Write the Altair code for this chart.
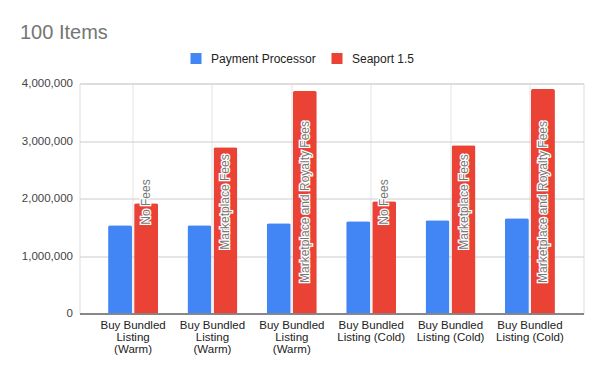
import altair as alt
import pandas as pd

# ---- data ----
categories = ["Buy Bundled Listing (Warm)"] * 3 + ["Buy Bundled Listing (Cold)"] * 3
tick_labels = ["Buy Bundled|Listing|(Warm)"] * 3 + ["Buy Bundled|Listing (Cold)"] * 3
series_names = ["Payment Processor", "Seaport 1.5"]
payment_processor = [1534000, 1534000, 1569000, 1603000, 1621000, 1656000]
seaport = [1917000, 2893000, 3869000, 1952000, 2928000, 3904000]
fee_labels = ["No Fees", "Marketplace Fees", "Marketplace and Royalty Fees"] * 2
y_ticks = [0, 1000000, 2000000, 3000000, 4000000]
colors = ["#4285F4", "#EA4335"]

rows = []
for i, cat in enumerate(categories):
    rows.append({"idx": i, "category": cat, "series": series_names[0],
                 "value": payment_processor[i], "note": ""})
    rows.append({"idx": i, "category": cat, "series": series_names[1],
                 "value": seaport[i], "note": fee_labels[i]})
df = pd.DataFrame(rows)

FONT = "Liberation Sans"
label_expr = "split(" + str(tick_labels) + "[datum.value], '|')"
label_center = y_ticks[-1] / 2

x_axis = alt.Axis(
    title=None, labelExpr=label_expr, labelAngle=0, ticks=False,
    domain=True, domainColor="#333333", domainWidth=1,
    grid=True, gridColor="#e3e3e3", bandPosition=0.5,
    labelPadding=6, labelFont=FONT, labelFontSize=11.5,
    labelColor="#222222", labelLineHeight=12, labelBaseline="top",
)
x_scale = alt.Scale(paddingInner=0.37, paddingOuter=0.36)
y_axis = alt.Axis(
    title=None, values=y_ticks, format=",", labelExpr="format(datum.value, ',')",
    domain=False, ticks=False,
    labelPadding=7, labelFont=FONT, labelFontSize=11.5, labelColor="#444444",
    gridColor="#cccccc",
)
y_scale = alt.Scale(domain=[y_ticks[0], y_ticks[-1]], nice=False)
x_off = alt.XOffset("series:N", sort=series_names,
                    scale=alt.Scale(paddingInner=0.08, paddingOuter=0))

bars = alt.Chart(df).mark_bar(cornerRadiusTopLeft=2, cornerRadiusTopRight=2).encode(
    x=alt.X("idx:N", scale=x_scale, axis=x_axis),
    xOffset=x_off,
    y=alt.Y("value:Q", scale=y_scale, axis=y_axis),
    color=alt.Color(
        "series:N",
        scale=alt.Scale(domain=series_names, range=colors),
        legend=alt.Legend(
            title=None, orient="none", legendX=110.5, legendY=-31,
            direction="horizontal", symbolType="square", symbolSize=121,
            symbolStrokeWidth=0, labelFont=FONT, labelFontSize=12,
            labelColor="#222222", labelOffset=9, columnPadding=15, padding=0,
        ),
    ),
)

red = alt.Chart(df).transform_filter(alt.datum.series == series_names[1])
halo = red.mark_text(angle=270, align="center", baseline="middle", font=FONT,
                     fontSize=12, stroke="white", strokeWidth=2.5, fill="white",
                     dx=-3.5).encode(
    x=alt.X("idx:N", scale=x_scale, axis=x_axis), xOffset=x_off,
    y=alt.Y(datum=label_center, scale=y_scale, axis=y_axis), text="note:N")
labels = red.mark_text(angle=270, align="center", baseline="middle", font=FONT,
                       fontSize=12, fill="#777777", dx=-3.5).encode(
    x=alt.X("idx:N", scale=x_scale, axis=x_axis), xOffset=x_off,
    y=alt.Y(datum=label_center, scale=y_scale, axis=y_axis), text="note:N")

chart = alt.layer(bars, halo, labels).properties(
    width=504, height=230,
    title=alt.TitleParams("100 Items", anchor="start", frame="group", font=FONT,
                          fontSize=20, fontWeight="normal", color="#757575",
                          dx=-59.5, offset=10),
    autosize=alt.AutoSizeParams(type="none"),
    padding={"left": 71.5, "top": 75.5, "right": 10, "bottom": 45},
).configure_view(stroke=None).configure(background="white")

chart.save("out.html", embed_options={"renderer": "svg", "actions": False})
